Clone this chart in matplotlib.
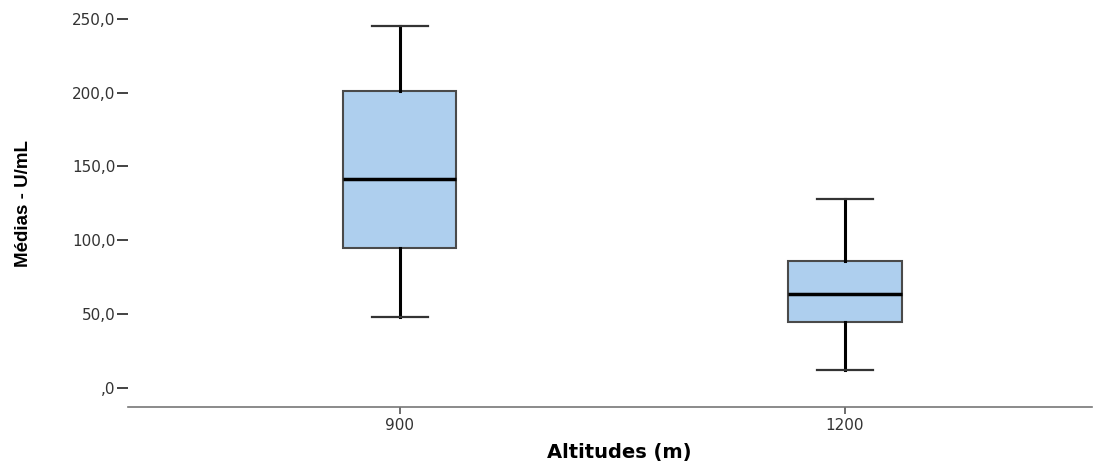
import matplotlib
matplotlib.use("Agg")
import matplotlib.pyplot as plt
from matplotlib.ticker import FuncFormatter

# values
altitudes = ["900", "1200"]
whislo = [47.7, 12.0]
q1 = [94.4, 44.7]
median = [141.4, 63.5]
q3 = [201.0, 85.8]
whishi = [245.0, 127.6]
yticks = [0, 50, 100, 150, 200, 250]

stats = []
for i in range(len(altitudes)):
    stats.append(dict(label=altitudes[i], whislo=whislo[i], q1=q1[i],
                      med=median[i], q3=q3[i], whishi=whishi[i], fliers=[]))

fig = plt.figure(figsize=(11.06, 4.61), dpi=100)
ax = fig.add_axes([128 / 1106, 54 / 461, 964 / 1106, 407 / 461])

ax.bxp(stats, positions=[0, 1], widths=0.254, capwidths=0.126,
       patch_artist=True, showfliers=False,
       boxprops=dict(facecolor="#aecfee", edgecolor="#4a4a4a", linewidth=1.5),
       medianprops=dict(color="black", linewidth=2.5),
       whiskerprops=dict(color="black", linewidth=2.2),
       capprops=dict(color="#333333", linewidth=1.6))

ax.set_xlim(-0.611, 1.555)
ax.set_ylim(-13.1, 262.7)

for s in ["left", "right", "top"]:
    ax.spines[s].set_visible(False)
ax.spines["bottom"].set_color("#777777")
ax.spines["bottom"].set_linewidth(1.2)

ax.set_yticks(yticks)
ax.yaxis.set_major_formatter(FuncFormatter(
    lambda v, p: (",0" if v == 0 else f"{v:.1f}".replace(".", ","))))
ax.tick_params(axis="y", length=8, width=1.2, color="#222222",
               labelsize=11, labelcolor="#333333", pad=1)
ax.tick_params(axis="x", length=5, width=1.2, color="#555555",
               labelsize=11, labelcolor="#333333", pad=3)

ax.set_ylabel("Médias - U/mL", family=["Liberation Sans", "DejaVu Sans"],
              fontweight="bold", fontsize=13.5, ha="center", va="center")
ax.yaxis.set_label_coords(-0.108, 0.50)
ax.set_xlabel("Altitudes (m)", fontweight="bold", fontsize=14,
              ha="center", va="center")
ax.xaxis.set_label_coords(0.51, -0.113)

fig.savefig("out.png", dpi=100)
